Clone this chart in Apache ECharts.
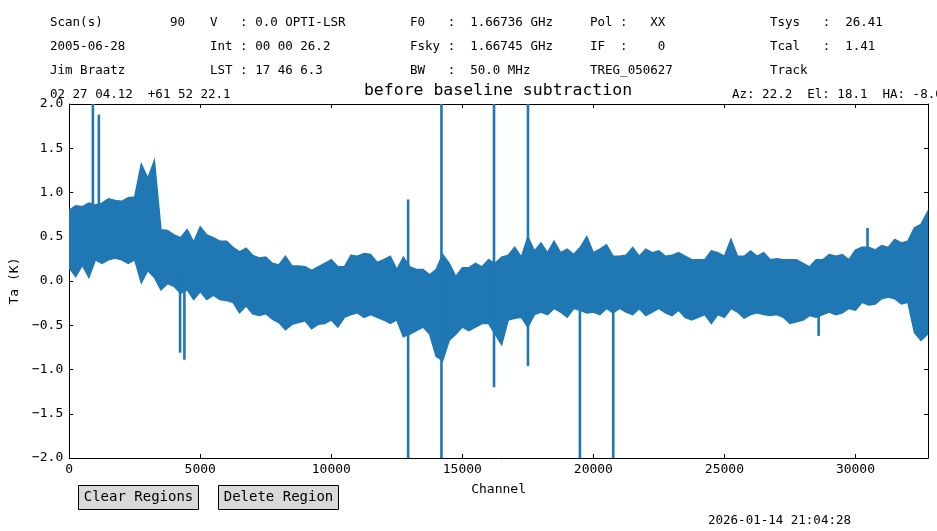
<!DOCTYPE html>
<html>
<head>
<meta charset="utf-8">
<script src="https://cdn.jsdelivr.net/npm/echarts@6/dist/echarts.min.js"></script>
<style>
  html, body { margin: 0; padding: 0; background: #fff; }
  #chart { width: 937px; height: 531px; }
</style>
</head>
<body>
<div id="chart"></div>
<script>
const CHANNEL_STEP = 250;
const upperK = [
  0.80, 0.85, 0.84, 0.88, 0.86, 0.88, 0.93, 0.91, 0.90, 0.94,
  0.95, 1.32, 1.16, 1.36, 0.58, 0.57, 0.52, 0.49, 0.58, 0.44,
  0.61, 0.52, 0.49, 0.45, 0.45, 0.38, 0.33, 0.37, 0.29, 0.26,
  0.27, 0.20, 0.18, 0.28, 0.17, 0.17, 0.16, 0.12, 0.16, 0.20,
  0.24, 0.16, 0.16, 0.29, 0.28, 0.31, 0.30, 0.21, 0.24, 0.28,
  0.13, 0.27, 0.16, 0.13, 0.13, 0.07, 0.13, 0.30, 0.20, 0.05,
  0.15, 0.15, 0.20, 0.16, 0.24, 0.20, 0.27, 0.29, 0.38, 0.27,
  0.50, 0.34, 0.43, 0.32, 0.45, 0.32, 0.36, 0.30, 0.38, 0.50,
  0.32, 0.36, 0.41, 0.28, 0.28, 0.29, 0.38, 0.28, 0.36, 0.32,
  0.34, 0.28, 0.29, 0.32, 0.28, 0.24, 0.24, 0.24, 0.34, 0.32,
  0.28, 0.47, 0.28, 0.28, 0.34, 0.28, 0.32, 0.24, 0.25, 0.24,
  0.24, 0.24, 0.20, 0.16, 0.24, 0.24, 0.30, 0.28, 0.30, 0.24,
  0.35, 0.38, 0.38, 0.35, 0.40, 0.38, 0.47, 0.43, 0.45, 0.60,
  0.64, 0.78
];
const lowerK = [
  0.15, 0.05, 0.18, 0.04, 0.24, 0.20, 0.24, 0.26, 0.24, 0.20,
  0.24, -0.02, 0.12, 0.04, -0.10, -0.03, -0.06, -0.14, -0.10, -0.21,
  -0.12, -0.21, -0.16, -0.21, -0.22, -0.24, -0.36, -0.28, -0.37, -0.39,
  -0.37, -0.43, -0.47, -0.55, -0.49, -0.47, -0.45, -0.54, -0.49, -0.48,
  -0.44, -0.52, -0.41, -0.38, -0.36, -0.41, -0.38, -0.41, -0.44, -0.48,
  -0.44, -0.63, -0.60, -0.56, -0.52, -0.60, -0.85, -0.90, -0.67, -0.60,
  -0.52, -0.56, -0.52, -0.48, -0.48, -0.60, -0.72, -0.44, -0.42, -0.41,
  -0.52, -0.38, -0.35, -0.38, -0.31, -0.35, -0.41, -0.31, -0.33, -0.36,
  -0.35, -0.38, -0.31, -0.36, -0.31, -0.35, -0.38, -0.31, -0.39, -0.35,
  -0.31, -0.36, -0.39, -0.33, -0.41, -0.44, -0.41, -0.38, -0.48, -0.38,
  -0.41, -0.31, -0.35, -0.42, -0.38, -0.36, -0.38, -0.39, -0.38, -0.41,
  -0.48, -0.46, -0.44, -0.39, -0.41, -0.38, -0.35, -0.38, -0.36, -0.31,
  -0.33, -0.24, -0.27, -0.26, -0.20, -0.18, -0.20, -0.26, -0.24, -0.58,
  -0.67, -0.60
];

// narrow RFI spikes: channel, low end, high end (beyond +-2 is off scale)
const spikeChannels = [903, 1131, 4230, 4395, 12932, 14203, 16209, 17505, 19486, 20758, 28595, 30460];
const spikeLow = [0.80, 0.85, -0.81, -0.89, -2.2, -2.2, -1.20, -0.96, -2.2, -2.2, -0.62, 0.0];
const spikeHigh = [2.2, 1.88, 0.10, 0.10, 0.92, 2.2, 2.2, 2.2, 0.0, 0.0, 0.0, 0.60];

const yTicks = [-2.0, -1.5, -1.0, -0.5, 0.0, 0.5, 1.0, 1.5, 2.0];
const xTicks = [0, 5000, 10000, 15000, 20000, 25000, 30000];
const N_CHANNELS = 32768;

const headerRows = [
  [[50, 'Scan(s)'], [170, '90'], [210, 'V   : 0.0 OPTI-LSR'], [410, 'F0   :  1.66736 GHz'], [590, 'Pol :   XX'], [770, 'Tsys   :  26.41']],
  [[50, '2005-06-28'], [210, 'Int : 00 00 26.2'], [410, 'Fsky :  1.66745 GHz'], [590, 'IF  :    0'], [770, 'Tcal   :  1.41']],
  [[50, 'Jim Braatz'], [210, 'LST : 17 46 6.3'], [410, 'BW   :  50.0 MHz'], [590, 'TREG_050627'], [770, 'Track']],
  [[50, '02 27 04.12  +61 52 22.1'], [732, 'Az: 22.2  El: 18.1  HA: -8.0']]
];
const headerY = [23, 47, 71, 95];

const MONO = '"DejaVu Sans Mono", monospace';
const BLUE = '#1f77b4';

const chart = echarts.init(document.getElementById('chart'), null, { renderer: 'canvas' });

const bandData = upperK.map((hi, i) => [Math.min(i * CHANNEL_STEP, N_CHANNELS - 1), lowerK[i], hi]);
const spikeData = spikeChannels.map((c, i) => [c, spikeLow[i], spikeHigh[i]]);

// whole noise band as one polygon: upper envelope left->right, lower envelope back
function renderBand(params, api) {
  if (params.dataIndex !== 0) return null;
  const upper = bandData.map(([c, lo, hi]) => api.coord([c, hi]));
  const lower = bandData.map(([c, lo]) => api.coord([c, lo]));
  return {
    type: 'polygon',
    shape: { points: upper.concat(lower.reverse()) },
    style: { fill: BLUE, stroke: BLUE, lineWidth: 1.5, lineJoin: 'miter' }
  };
}

function renderSpike(params, api) {
  const top = api.coord([api.value(0), api.value(2)]);
  const bottom = api.coord([api.value(0), api.value(1)]);
  return {
    type: 'rect',
    shape: { x: top[0] - 1.3, y: top[1], width: 2.6, height: bottom[1] - top[1] },
    style: { fill: BLUE }
  };
}

const graphic = [];
headerRows.forEach((row, r) => {
  row.forEach(([x, text]) => {
    graphic.push({
      type: 'text', x: x, y: headerY[r], silent: true,
      style: { text: text, font: '12.5px ' + MONO, fill: '#000', verticalAlign: 'middle' }
    });
  });
});
graphic.push({
  type: 'text', x: 498, y: 91,
  style: { text: 'before baseline subtraction', font: '16.5px ' + MONO, fill: '#000', align: 'center', verticalAlign: 'middle' }
});
[[78.5, 'Clear Regions'], [218.5, 'Delete Region']].forEach(([x, label]) => {
  graphic.push({
    type: 'rect', shape: { x: x, y: 485.5, width: 120, height: 24 },
    style: { fill: '#d9d9d9', stroke: '#000', lineWidth: 1 }
  });
  graphic.push({
    type: 'text', x: x + 60, y: 497.5,
    style: { text: label, font: '14px ' + MONO, fill: '#000', align: 'center', verticalAlign: 'middle' }
  });
});
graphic.push({
  type: 'text', x: 708, y: 521,
  style: { text: '2026-01-14 21:04:28', font: '12.5px ' + MONO, fill: '#000', verticalAlign: 'middle' }
});

const frameAxis = {
  axisLine: { show: true, onZero: false, lineStyle: { color: '#000', width: 1 } },
  axisTick: { show: true, inside: true, length: 4, lineStyle: { color: '#000' } },
  splitLine: { show: false }
};

chart.setOption({
  animation: false,
  backgroundColor: '#fff',
  grid: { left: 68, right: 9, top: 104, bottom: 73 },
  graphic: graphic,
  xAxis: [
    {
      type: 'value', min: 0, max: N_CHANNELS, interval: xTicks[1] - xTicks[0], position: 'bottom',
      name: 'Channel', nameLocation: 'middle', nameGap: 25,
      nameTextStyle: { fontFamily: MONO, fontSize: 13, color: '#000' },
      axisLabel: { fontFamily: MONO, fontSize: 13, color: '#000', margin: 5, showMaxLabel: false, formatter: (v) => String(v) },
      ...frameAxis
    },
    {
      type: 'value', min: 0, max: N_CHANNELS, interval: xTicks[1] - xTicks[0], position: 'top',
      axisLabel: { show: false }, ...frameAxis
    }
  ],
  yAxis: [
    {
      type: 'value', min: yTicks[0], max: yTicks[yTicks.length - 1], interval: 0.5, position: 'left',
      name: 'Ta (K)', nameLocation: 'middle', nameGap: 44,
      nameTextStyle: { fontFamily: MONO, fontSize: 13, color: '#000' },
      axisLabel: {
        fontFamily: MONO, fontSize: 13, color: '#000', margin: 6,
        formatter: (v) => v.toFixed(1).replace('-', '\u2212')
      },
      ...frameAxis
    },
    {
      type: 'value', min: yTicks[0], max: yTicks[yTicks.length - 1], interval: 0.5, position: 'right',
      axisLabel: { show: false }, ...frameAxis
    }
  ],
  series: [
    {
      type: 'custom', data: bandData, renderItem: renderBand, clip: true, silent: true,
      encode: { x: 0, y: [1, 2] }
    },
    {
      type: 'custom', data: spikeData, renderItem: renderSpike, clip: true, silent: true,
      encode: { x: 0, y: [1, 2] }
    }
  ]
});
</script>
</body>
</html>
